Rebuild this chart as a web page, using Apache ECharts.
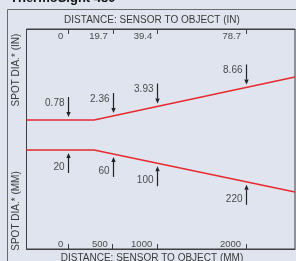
<!DOCTYPE html>
<html>
<head>
<meta charset="utf-8">
<script src="https://cdn.jsdelivr.net/npm/echarts@6/dist/echarts.min.js"></script>
<style>
  html, body { margin: 0; padding: 0; background: #dfe4ee; }
  #chart { width: 296px; height: 261px; }
</style>
</head>
<body>
<div id="chart"></div>
<script>
// distance ticks (same positions, two units)
var mmTicks = [0, 500, 1000, 2000];
var inchTicks = [0, 19.7, 39.4, 78.7];

// spot edges: [distance mm, half width (schematic units)]
var upperEdge = [[-470, 15], [290, 15], [2550, 58]];
var lowerEdge = [[-470, -15], [290, -15], [2550, -57]];

// spot diameter callouts
var calloutAt = [0, 500, 1000, 2000];
var spotInch = ['0.78', '2.36', '3.93', '8.66'];
var spotMM = ['20', '60', '100', '220'];

var dom = document.getElementById('chart');
var myChart = echarts.init(dom, null, { renderer: 'canvas' });

function edgeAt(edge, x) {
  for (var i = 0; i < edge.length - 1; i++) {
    var a = edge[i], b = edge[i + 1];
    if (x >= a[0] && x <= b[0]) {
      return a[1] + (b[1] - a[1]) * (x - a[0]) / (b[0] - a[0]);
    }
  }
  return edge[edge.length - 1][1];
}

var callouts = [];
calloutAt.forEach(function (x, i) {
  callouts.push([x, edgeAt(upperEdge, x), 1, spotInch[i]]);
  callouts.push([x, edgeAt(lowerEdge, x), -1, spotMM[i]]);
});

var labelFont = 'Liberation Sans, Arial, sans-serif';

function renderArrow(params, api) {
  var p = api.coord([api.value(0), api.value(1)]);
  var dir = api.value(2);
  var text = callouts[params.dataIndex][3];
  var gap = 3, len = 20, head = 5;
  var x = Math.round(p[0]) + 0.5;
  var tipY = p[1] - dir * gap;
  var tailY = p[1] - dir * (gap + len);
  var labelY = dir > 0 ? tailY + 6 : tailY - 6;
  return {
    type: 'group',
    children: [
      {
        type: 'line',
        shape: { x1: x, y1: tailY, x2: x, y2: tipY - dir * head },
        style: { stroke: '#222', lineWidth: 1.2 }
      },
      {
        type: 'polygon',
        shape: { points: [[x - 2.2, tipY - dir * head], [x + 2.2, tipY - dir * head], [x, tipY]] },
        style: { fill: '#222' }
      },
      {
        type: 'text',
        style: {
          text: text, x: x - 4, y: labelY,
          align: 'right', verticalAlign: 'middle',
          fill: '#4a4a4a', font: '10px ' + labelFont
        }
      }
    ]
  };
}

var option = {
  backgroundColor: '#dfe4ee',
  animation: false,
  grid: {
    left: 26.5, right: 1, top: 29, bottom: 12,
    show: true, borderColor: '#3e3e3e', borderWidth: 1
  },
  xAxis: [
    {
      type: 'value', position: 'bottom',
      min: -470, max: 2550,
      axisLine: { show: true, onZero: false, lineStyle: { color: '#3e3e3e' } },
      axisTick: { show: true, inside: true, length: 5, customValues: mmTicks, lineStyle: { color: '#3e3e3e' } },
      axisLabel: {
        inside: true, customValues: mmTicks, align: 'right', padding: [0, 5, 0, 0],
        margin: 0, color: '#4a4a4a', fontSize: 9.5, fontFamily: labelFont,
        formatter: function (v) { return String(v); }
      },
      splitLine: { show: false }
    },
    {
      type: 'value', position: 'top',
      min: -470 / 25.4, max: 2550 / 25.4,
      axisLine: { show: true, onZero: false, lineStyle: { color: '#3e3e3e' } },
      axisTick: { show: true, inside: true, length: 5, customValues: inchTicks, lineStyle: { color: '#3e3e3e' } },
      axisLabel: {
        inside: true, customValues: inchTicks, align: 'right', padding: [0, 5, 0, 0],
        margin: 2, color: '#4a4a4a', fontSize: 9.5, fontFamily: labelFont,
        formatter: function (v) { return v === 0 ? '0' : v.toFixed(1); }
      },
      splitLine: { show: false }
    }
  ],
  yAxis: {
    type: 'value', min: -114, max: 106, show: false
  },
  graphic: [
    {
      type: 'rect', silent: true,
      shape: { x: 7.5, y: 9.5, width: 300, height: 300 },
      style: { fill: 'none', stroke: '#6a6a6a', lineWidth: 1 }
    },
    {
      type: 'text', left: 10, top: -8,
      style: { text: 'ThermoSight 480', fill: '#111', font: 'bold 13px ' + labelFont }
    },
    {
      type: 'text', x: 152, y: 20,
      style: {
        text: 'DISTANCE: SENSOR TO OBJECT (IN)', align: 'center', verticalAlign: 'middle',
        fill: '#3a3a3a', font: '10px ' + labelFont
      }
    },
    {
      type: 'text', x: 152, y: 258,
      style: {
        text: 'DISTANCE: SENSOR TO OBJECT (MM)', align: 'center', verticalAlign: 'middle',
        fill: '#3a3a3a', font: '10px ' + labelFont
      }
    },
    {
      type: 'text', x: 16, y: 70, rotation: Math.PI / 2,
      style: {
        text: 'SPOT DIA.* (IN)', align: 'center', verticalAlign: 'middle',
        fill: '#3a3a3a', font: '10px ' + labelFont
      }
    },
    {
      type: 'text', x: 16, y: 211, rotation: Math.PI / 2,
      style: {
        text: 'SPOT DIA.* (MM)', align: 'center', verticalAlign: 'middle',
        fill: '#3a3a3a', font: '10px ' + labelFont
      }
    }
  ],
  series: [
    {
      name: 'upper', type: 'line', data: upperEdge, symbol: 'none',
      lineStyle: { color: '#e62a2e', width: 1.3 }, z: 3
    },
    {
      name: 'lower', type: 'line', data: lowerEdge, symbol: 'none',
      lineStyle: { color: '#e62a2e', width: 1.3 }, z: 3
    },
    {
      name: 'callouts', type: 'custom', data: callouts.map(function (c) { return c.slice(0, 3); }),
      renderItem: renderArrow, z: 4
    }
  ]
};

myChart.setOption(option);
window.addEventListener('resize', myChart.resize);
</script>
</body>
</html>
